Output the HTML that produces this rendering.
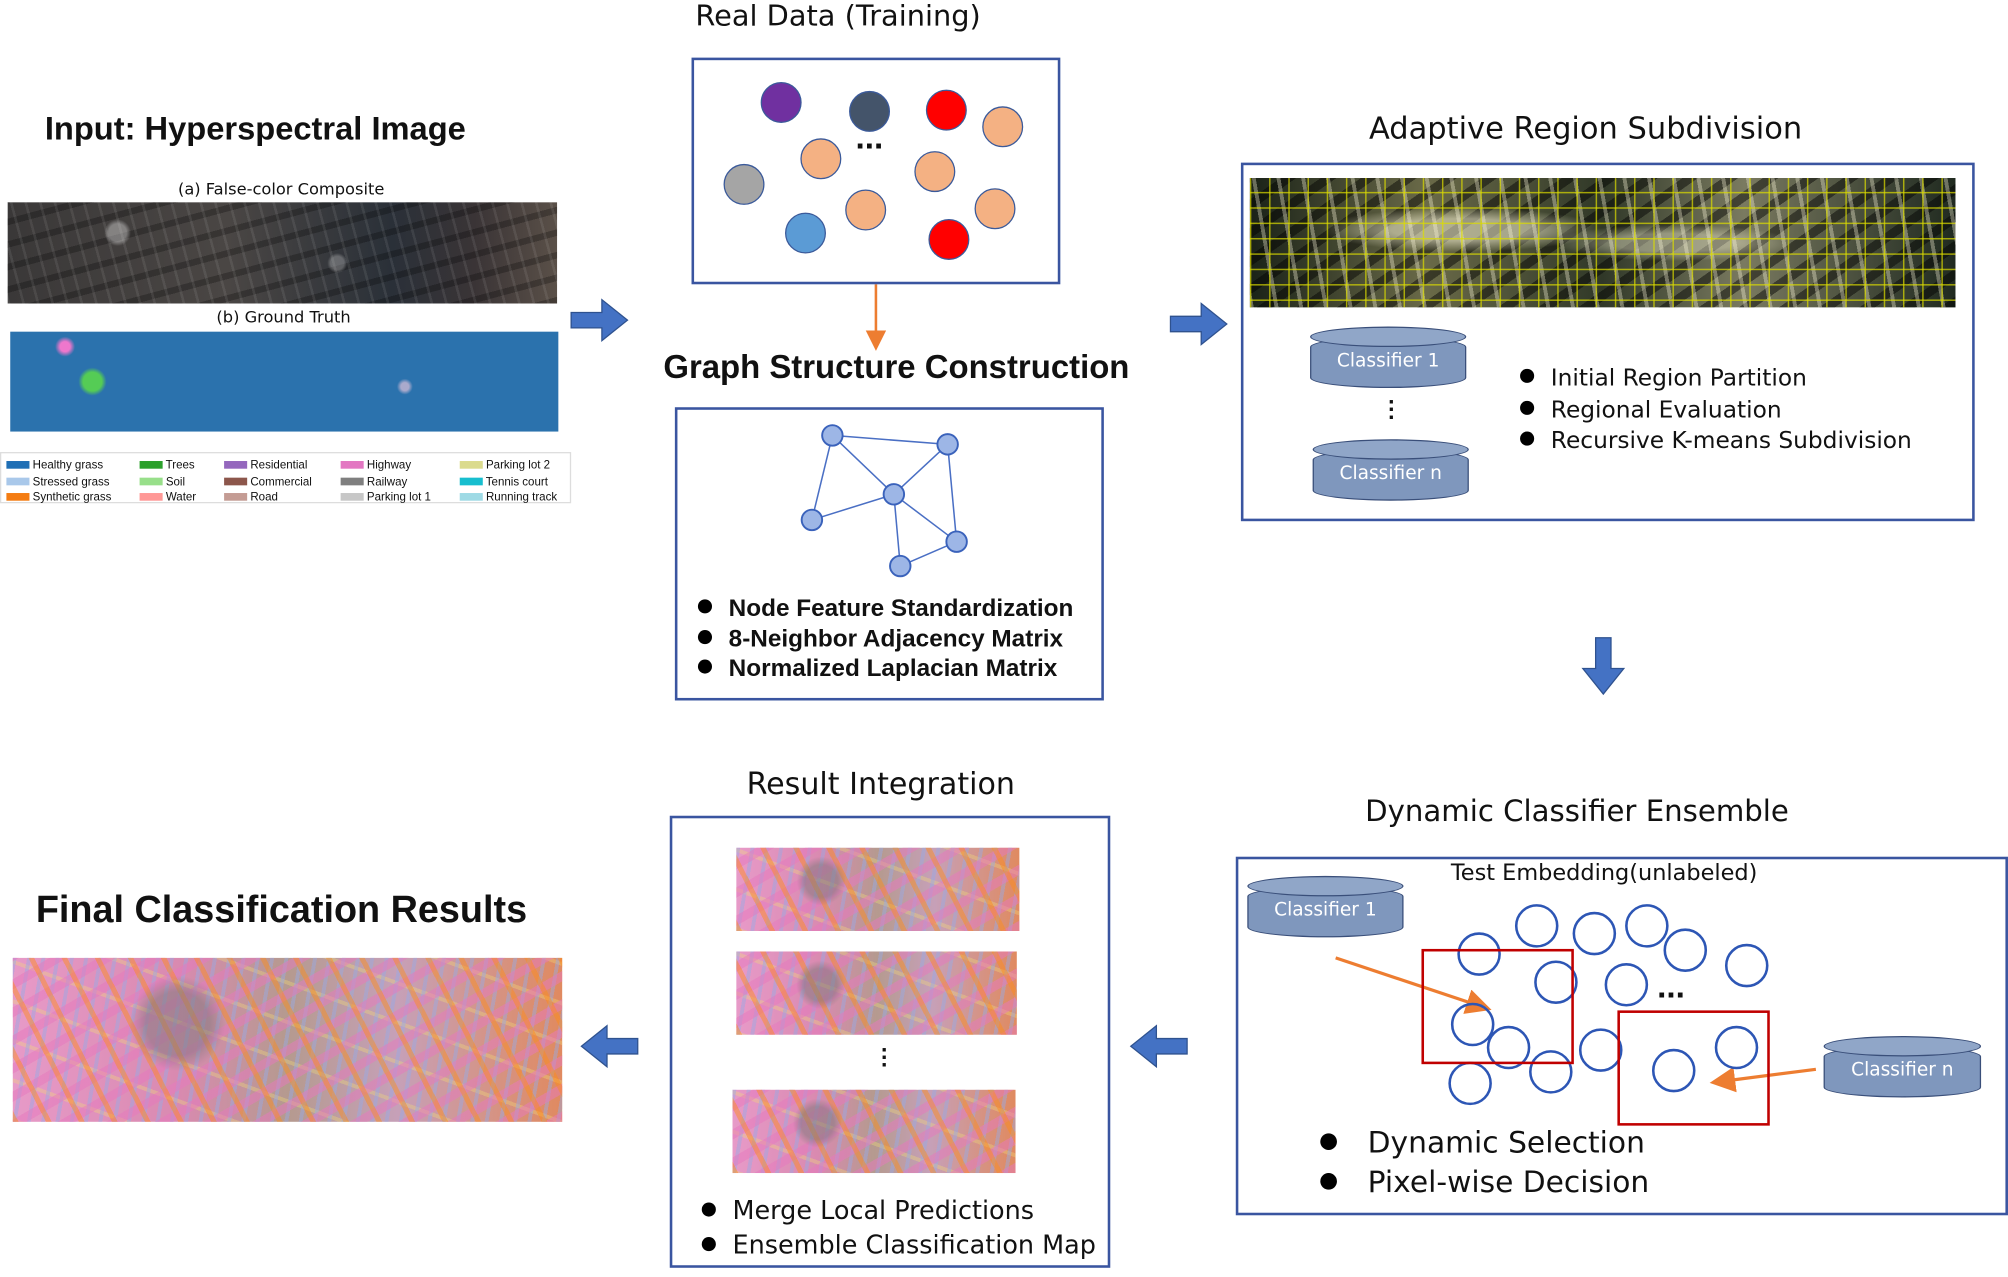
<!DOCTYPE html>
<html><head><meta charset="utf-8">
<style>
html,body{margin:0;padding:0;background:#fff;width:2008px;height:1277px;overflow:hidden}
#w{position:absolute;left:0;top:0;width:1568px;height:997px;transform:scale(1.2806);transform-origin:0 0;font-family:"Liberation Sans",sans-serif;color:#111}
.a{position:absolute}
.t{position:absolute;white-space:nowrap}
.d{font-family:"DejaVu Sans",sans-serif}
.box{position:absolute;border:2px solid #3a55a0;box-sizing:border-box}
.cyl{position:absolute}
.cyl .b{position:absolute;left:0;right:0;top:8px;bottom:0;background:#7f97bd;border:1.5px solid #3a4f7a;border-radius:50%/8px;box-sizing:border-box}
.cyl .tp{position:absolute;left:0;right:0;top:0;height:16px;background:#90a6c8;border:1.5px solid #3a4f7a;border-radius:50%;box-sizing:border-box}
.cyl span{position:absolute;left:0;right:0;top:19px;text-align:center;color:#fff;font-size:14.5px;font-family:"DejaVu Sans",sans-serif}
.c{position:absolute;border-radius:50%;box-sizing:border-box}
.o{border:2px solid #2d56b5;width:34px;height:34px}
.bl{font-size:19px;font-weight:bold}
.dot{display:inline-block;width:11px;height:11px;border-radius:50%;background:#000;margin-right:13px;vertical-align:2px}
.cmap{position:absolute;background:
radial-gradient(circle at 30% 40%,rgba(120,120,120,.5) 0 8%,transparent 12%),
repeating-linear-gradient(63deg,rgba(255,140,20,.45) 0 4px,transparent 4px 23px),
repeating-linear-gradient(-30deg,rgba(230,120,190,.5) 0 7px,transparent 7px 19px),
repeating-linear-gradient(100deg,rgba(150,170,230,.45) 0 3px,transparent 3px 11px),
repeating-linear-gradient(20deg,rgba(240,220,120,.35) 0 3px,transparent 3px 29px),
linear-gradient(90deg,#e79ac8,#d98ab0 30%,#b59a8f 50%,#c6a0b8 70%,#e08a60);}
</style></head><body><div id="w">

<div class="t" style="left:35px;top:87px;font-size:25.5px;font-weight:bold">Input: Hyperspectral Image</div>
<div class="t d" style="left:139px;top:140px;font-size:12.7px">(a) False-color Composite</div>
<div class="a" style="left:6px;top:158px;width:429px;height:79px;background:radial-gradient(circle at 20% 30%,rgba(255,255,255,.35) 0 2%,transparent 3%),radial-gradient(circle at 60% 60%,rgba(255,255,255,.25) 0 2%,transparent 3%),repeating-linear-gradient(75deg,rgba(255,255,255,.08) 0 2px,transparent 2px 11px),repeating-linear-gradient(-15deg,rgba(0,0,0,.25) 0 5px,transparent 5px 17px),linear-gradient(90deg,#3a3838,#4a4644 40%,#2a3038 70%,#3a3436 85%,#5a5048)"></div>
<div class="t d" style="left:169px;top:240px;font-size:12.7px">(b) Ground Truth</div>
<div class="a" style="left:8px;top:259px;width:428px;height:78px;background:radial-gradient(circle at 15% 50%,#5c5 0 2%,transparent 3%),radial-gradient(circle at 10% 15%,#e7c 0 1%,transparent 2%),radial-gradient(circle at 72% 55%,#aac 0 1%,transparent 2%),#2b72ad"></div>
<div class="a" style="left:0;top:353px;width:446px;height:40px;border:1px solid #ddd;box-sizing:border-box;font-size:9px">
<div class="t" style="left:4px;top:3px;line-height:12.5px"><span style="display:inline-block;width:18px;height:6px;background:#1f6fb5"></span> Healthy grass<br><span style="display:inline-block;width:18px;height:6px;background:#a9c8ea"></span> Stressed grass<br><span style="display:inline-block;width:18px;height:6px;background:#f47c12"></span> Synthetic grass</div>
<div class="t" style="left:108px;top:3px;line-height:12.5px"><span style="display:inline-block;width:18px;height:6px;background:#2ca02c"></span> Trees<br><span style="display:inline-block;width:18px;height:6px;background:#98df8a"></span> Soil<br><span style="display:inline-block;width:18px;height:6px;background:#ff9896"></span> Water</div>
<div class="t" style="left:174px;top:3px;line-height:12.5px"><span style="display:inline-block;width:18px;height:6px;background:#9467bd"></span> Residential<br><span style="display:inline-block;width:18px;height:6px;background:#8c564b"></span> Commercial<br><span style="display:inline-block;width:18px;height:6px;background:#c49c94"></span> Road</div>
<div class="t" style="left:265px;top:3px;line-height:12.5px"><span style="display:inline-block;width:18px;height:6px;background:#e377c2"></span> Highway<br><span style="display:inline-block;width:18px;height:6px;background:#7f7f7f"></span> Railway<br><span style="display:inline-block;width:18px;height:6px;background:#c7c7c7"></span> Parking lot 1</div>
<div class="t" style="left:358px;top:3px;line-height:12.5px"><span style="display:inline-block;width:18px;height:6px;background:#dbdb8d"></span> Parking lot 2<br><span style="display:inline-block;width:18px;height:6px;background:#17becf"></span> Tennis court<br><span style="display:inline-block;width:18px;height:6px;background:#9edae5"></span> Running track</div>
</div>

<svg class="a" style="left:0;top:0" width="1568" height="997">
<defs><marker id="oa" markerWidth="8" markerHeight="8" refX="6" refY="4" orient="auto"><path d="M0,0 L8,4 L0,8z" fill="#ed7d31"/></marker></defs>
<g fill="#4472c4" stroke="#2f528f" stroke-width="1">
<path d="M446,244 h24 v-10 l20,16 l-20,16 v-10 h-24z"/>
<path d="M914,247 h24 v-10 l20,16 l-20,16 v-10 h-24z"/>
<path d="M1246,498 v24 h-10 l16,20 l16,-20 h-10 v-24z"/>
<path d="M927,811 h-24 v-10 l-20,16 l20,16 v-10 h24z"/>
<path d="M498,811 h-24 v-10 l-20,16 l20,16 v-10 h24z"/>
</g>
<line x1="684" y1="222" x2="684" y2="270" stroke="#ed7d31" stroke-width="2" marker-end="url(#oa)"/>
<g stroke="#4a6fc4" stroke-width="1.2">
<line x1="650" y1="340" x2="740" y2="347"/><line x1="650" y1="340" x2="698" y2="386"/><line x1="650" y1="340" x2="634" y2="406"/>
<line x1="740" y1="347" x2="698" y2="386"/><line x1="740" y1="347" x2="747" y2="423"/><line x1="698" y1="386" x2="634" y2="406"/>
<line x1="698" y1="386" x2="747" y2="423"/><line x1="698" y1="386" x2="703" y2="442"/><line x1="747" y1="423" x2="703" y2="442"/>
</g>
<g fill="#9db6e6" stroke="#3a62bb" stroke-width="1.5">
<circle cx="650" cy="340" r="8"/><circle cx="740" cy="347" r="8"/><circle cx="698" cy="386" r="8"/><circle cx="634" cy="406" r="8"/><circle cx="747" cy="423" r="8"/><circle cx="703" cy="442" r="8"/>
</g>
<line x1="1043" y1="748" x2="1160" y2="787" stroke="#ed7d31" stroke-width="2.5" marker-end="url(#oa)"/>
<line x1="1418" y1="835" x2="1340" y2="845" stroke="#ed7d31" stroke-width="2.5" marker-end="url(#oa)"/>
</svg>

<div class="t d" style="left:543px;top:0;font-size:22.5px">Real Data (Training)</div>
<div class="box" style="left:540px;top:45px;width:288px;height:177px"></div>
<div class="c" style="left:594px;top:64px;width:32px;height:32px;background:#7030a0;border:1.5px solid #3b5a9a"></div>
<div class="c" style="left:663px;top:71px;width:32px;height:32px;background:#44546a;border:1.5px solid #3b5a9a"></div>
<div class="c" style="left:723px;top:70px;width:32px;height:32px;background:#f00;border:1.5px solid #3b5a9a"></div>
<div class="c" style="left:767px;top:83px;width:32px;height:32px;background:#f4b183;border:1.5px solid #3b5a9a"></div>
<div class="c" style="left:625px;top:108px;width:32px;height:32px;background:#f4b183;border:1.5px solid #3b5a9a"></div>
<div class="t" style="left:668px;top:92px;font-size:26px;font-weight:bold">...</div>
<div class="c" style="left:714px;top:118px;width:32px;height:32px;background:#f4b183;border:1.5px solid #3b5a9a"></div>
<div class="c" style="left:565px;top:128px;width:32px;height:32px;background:#a5a5a5;border:1.5px solid #3b5a9a"></div>
<div class="c" style="left:660px;top:148px;width:32px;height:32px;background:#f4b183;border:1.5px solid #3b5a9a"></div>
<div class="c" style="left:761px;top:147px;width:32px;height:32px;background:#f4b183;border:1.5px solid #3b5a9a"></div>
<div class="c" style="left:613px;top:166px;width:32px;height:32px;background:#5b9bd5;border:1.5px solid #3b5a9a"></div>
<div class="c" style="left:725px;top:171px;width:32px;height:32px;background:#f00;border:1.5px solid #3b5a9a"></div>

<div class="t" style="left:518px;top:273px;font-size:25.7px;font-weight:bold">Graph Structure Construction</div>
<div class="box" style="left:527px;top:318px;width:335px;height:229px"></div>
<div class="t bl" style="left:545px;top:464px;line-height:23.5px"><span class="dot"></span>Node Feature Standardization<br><span class="dot"></span>8-Neighbor Adjacency Matrix<br><span class="dot"></span>Normalized Laplacian Matrix</div>

<div class="t d" style="left:1069px;top:86px;font-size:23.8px">Adaptive Region Subdivision</div>
<div class="box" style="left:969px;top:127px;width:573px;height:280px"></div>
<div class="a" style="left:976px;top:139px;width:551px;height:101px;background:
linear-gradient(90deg,rgba(220,220,0,.7) 1px,transparent 1px) 0 0/15px 100%,
linear-gradient(0deg,rgba(220,220,0,.7) 1px,transparent 1px) 0 0/100% 12px,
radial-gradient(ellipse at 30% 40%,rgba(255,250,220,.5) 0 10%,transparent 20%),
radial-gradient(ellipse at 60% 50%,rgba(255,250,220,.4) 0 10%,transparent 20%),
repeating-linear-gradient(80deg,rgba(255,250,220,.35) 0 3px,transparent 3px 19px),
repeating-linear-gradient(-35deg,rgba(0,0,0,.45) 0 7px,transparent 7px 18px),
linear-gradient(90deg,#1a2218,#6a6a48 25%,#303828 50%,#7a7a60 70%,#202a20)"></div>
<div class="cyl" style="left:1023px;top:255px;width:122px;height:48px"><div class="b"></div><div class="tp"></div><span>Classifier 1</span></div>
<div class="t" style="left:1084px;top:306px;font-size:18px;font-weight:bold;line-height:6px">.<br>.<br>.</div>
<div class="cyl" style="left:1025px;top:343px;width:122px;height:48px"><div class="b"></div><div class="tp"></div><span>Classifier n</span></div>
<div class="t d" style="left:1187px;top:284px;font-size:18.2px;line-height:24.5px"><span class="dot"></span>Initial Region Partition<br><span class="dot"></span>Regional Evaluation<br><span class="dot"></span>Recursive K-means Subdivision</div>

<div class="t d" style="left:1066px;top:621px;font-size:22.8px">Dynamic Classifier Ensemble</div>
<div class="box" style="left:965px;top:669px;width:603px;height:280px"></div>
<div class="t d" style="left:1133px;top:672px;font-size:17.5px">Test Embedding(unlabeled)</div>
<div class="cyl" style="left:974px;top:684px;width:122px;height:48px"><div class="b"></div><div class="tp"></div><span>Classifier 1</span></div>
<div class="cyl" style="left:1424px;top:809px;width:123px;height:48px"><div class="b"></div><div class="tp"></div><span>Classifier n</span></div>
<div class="c o" style="left:1183px;top:706px"></div>
<div class="c o" style="left:1228px;top:712px"></div>
<div class="c o" style="left:1269px;top:706px"></div>
<div class="c o" style="left:1299px;top:725px"></div>
<div class="c o" style="left:1347px;top:737px"></div>
<div class="c o" style="left:1138px;top:728px"></div>
<div class="c o" style="left:1198px;top:750px"></div>
<div class="c o" style="left:1253px;top:752px"></div>
<div class="t" style="left:1294px;top:755px;font-size:26px;font-weight:bold">...</div>
<div class="c o" style="left:1133px;top:783px"></div>
<div class="c o" style="left:1161px;top:801px"></div>
<div class="c o" style="left:1194px;top:820px"></div>
<div class="c o" style="left:1233px;top:803px"></div>
<div class="c o" style="left:1339px;top:801px"></div>
<div class="c o" style="left:1290px;top:819px"></div>
<div class="c o" style="left:1131px;top:829px"></div>
<div class="a" style="left:1110px;top:741px;width:119px;height:90px;border:2px solid #c00000;box-sizing:border-box"></div>
<div class="a" style="left:1263px;top:789px;width:119px;height:90px;border:2px solid #c00000;box-sizing:border-box"></div>
<div class="t d" style="left:1031px;top:877px;font-size:23.2px;line-height:31px"><span class="dot" style="width:13px;height:13px;margin-right:24px"></span>Dynamic Selection<br><span class="dot" style="width:13px;height:13px;margin-right:24px"></span>Pixel-wise Decision</div>

<div class="t d" style="left:583px;top:598px;font-size:23.5px">Result Integration</div>
<div class="box" style="left:523px;top:637px;width:344px;height:353px"></div>
<div class="cmap" style="left:575px;top:662px;width:221px;height:65px"></div>
<div class="cmap" style="left:575px;top:743px;width:219px;height:65px"></div>
<div class="t" style="left:688px;top:812px;font-size:18px;font-weight:bold;line-height:6px">.<br>.<br>.</div>
<div class="cmap" style="left:572px;top:851px;width:221px;height:65px"></div>
<div class="t d" style="left:548px;top:932px;font-size:19.9px;line-height:27px"><span class="dot"></span>Merge Local Predictions<br><span class="dot"></span>Ensemble Classification Map</div>

<div class="t" style="left:28px;top:694px;font-size:29.5px;font-weight:bold">Final Classification Results</div>
<div class="cmap" style="left:10px;top:748px;width:429px;height:128px"></div>

</div></body></html>
